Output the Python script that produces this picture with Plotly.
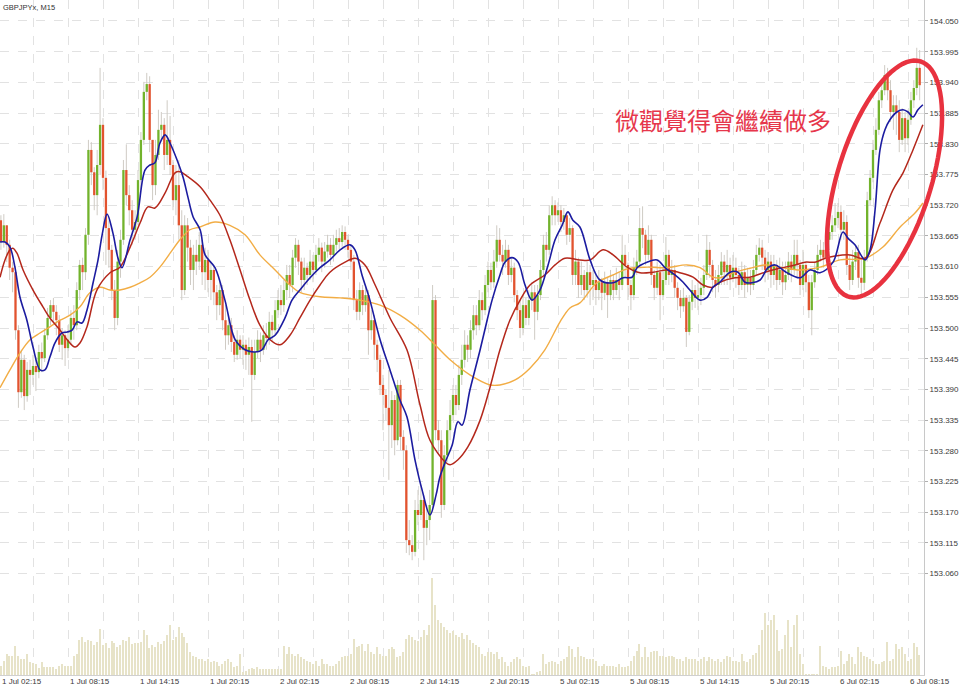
import numpy as np
import plotly.graph_objects as go

# ---------------- data (GBPJPYx, M15) ----------------
first_open = 153.676
close = [
    153.693, 153.654, 153.684, 153.649, 153.608, 153.600, 153.496, 153.385, 153.443, 153.378, 153.425, 153.416,
    153.432, 153.421, 153.457, 153.446, 153.487, 153.518, 153.541, 153.529, 153.514, 153.470, 153.487, 153.464,
    153.479, 153.518, 153.505, 153.568, 153.613, 153.600, 153.667, 153.819, 153.779, 153.738, 153.792, 153.864,
    153.769, 153.679, 153.640, 153.568, 153.518, 153.619, 153.658, 153.783, 153.738, 153.711, 153.676, 153.690,
    153.765, 153.837, 153.923, 153.937, 153.837, 153.756, 153.810, 153.855, 153.864, 153.810, 153.837, 153.792,
    153.729, 153.756, 153.684, 153.568, 153.684, 153.644, 153.604, 153.631, 153.619, 153.649, 153.600, 153.622,
    153.586, 153.604, 153.564, 153.541, 153.568, 153.514, 153.487, 153.505, 153.475, 153.452, 153.479, 153.461,
    153.470, 153.452, 153.466, 153.416, 153.457, 153.479, 153.461, 153.487, 153.482, 153.511, 153.496, 153.532,
    153.550, 153.541, 153.568, 153.595, 153.577, 153.626, 153.649, 153.619, 153.586, 153.608, 153.595, 153.619,
    153.604, 153.631, 153.644, 153.619, 153.637, 153.649, 153.631, 153.649, 153.661, 153.654, 153.672, 153.658,
    153.640, 153.619, 153.550, 153.529, 153.568, 153.541, 153.559, 153.496, 153.514, 153.470, 153.443, 153.398,
    153.380, 153.357, 153.326, 153.371, 153.299, 153.398, 153.305, 153.281, 153.120, 153.111, 153.099, 153.174,
    153.165, 153.192, 153.142, 153.156, 153.183, 153.550, 153.317, 153.299, 153.183, 153.272, 153.317, 153.344,
    153.380, 153.362, 153.416, 153.443, 153.470, 153.461, 153.496, 153.523, 153.505, 153.550, 153.532, 153.577,
    153.604, 153.582, 153.619, 153.658, 153.631, 153.619, 153.640, 153.595, 153.608, 153.559, 153.532, 153.500,
    153.541, 153.518, 153.550, 153.564, 153.529, 153.559, 153.604, 153.649, 153.640, 153.702, 153.720, 153.702,
    153.711, 153.690, 153.702, 153.667, 153.679, 153.595, 153.619, 153.577, 153.595, 153.568, 153.600, 153.577,
    153.586, 153.568, 153.582, 153.563, 153.581, 153.559, 153.586, 153.568, 153.586, 153.577, 153.631, 153.613,
    153.577, 153.559, 153.608, 153.619, 153.679, 153.667, 153.631, 153.658, 153.595, 153.572, 153.600, 153.559,
    153.586, 153.631, 153.595, 153.604, 153.572, 153.554, 153.539, 153.554, 153.493, 153.547, 153.568, 153.554,
    153.559, 153.572, 153.595, 153.640, 153.613, 153.586, 153.577, 153.595, 153.619, 153.600, 153.613, 153.590,
    153.608, 153.595, 153.577, 153.600, 153.577, 153.590, 153.577, 153.604, 153.631, 153.644, 153.626, 153.604,
    153.619, 153.595, 153.613, 153.586, 153.604, 153.582, 153.595, 153.619, 153.604, 153.631, 153.613, 153.577,
    153.613, 153.582, 153.532, 153.582, 153.604, 153.631, 153.640, 153.626, 153.658, 153.672, 153.684, 153.697,
    153.708, 153.676, 153.690, 153.613, 153.586, 153.619, 153.636, 153.590, 153.581, 153.626, 153.729, 153.769,
    153.819, 153.855, 153.908, 153.926, 153.953, 153.926, 153.887, 153.899, 153.887, 153.837, 153.876, 153.840,
    153.873, 153.908, 153.930, 153.966, 153.935,
]
high = [
    153.708, 153.702, 153.704, 153.684, 153.658, 153.619, 153.611, 153.505, 153.461, 153.452, 153.439, 153.443,
    153.452, 153.448, 153.470, 153.474, 153.500, 153.536, 153.550, 153.554, 153.541, 153.523, 153.500, 153.496,
    153.505, 153.532, 153.541, 153.582, 153.622, 153.626, 153.679, 153.837, 153.833, 153.788, 153.819, 153.966,
    153.876, 153.782, 153.693, 153.649, 153.586, 153.640, 153.676, 153.801, 153.829, 153.756, 153.729, 153.711,
    153.783, 153.851, 153.941, 153.957, 153.951, 153.837, 153.837, 153.891, 153.887, 153.876, 153.908, 153.880,
    153.801, 153.792, 153.801, 153.711, 153.702, 153.697, 153.658, 153.649, 153.658, 153.672, 153.658, 153.644,
    153.640, 153.619, 153.613, 153.577, 153.586, 153.577, 153.541, 153.523, 153.518, 153.487, 153.496, 153.487,
    153.487, 153.479, 153.483, 153.479, 153.479, 153.496, 153.492, 153.505, 153.509, 153.529, 153.523, 153.550,
    153.568, 153.577, 153.586, 153.613, 153.613, 153.640, 153.661, 153.658, 153.626, 153.626, 153.617, 153.640,
    153.631, 153.649, 153.661, 153.653, 153.654, 153.667, 153.661, 153.667, 153.676, 153.679, 153.684, 153.682,
    153.667, 153.649, 153.631, 153.568, 153.582, 153.577, 153.577, 153.568, 153.532, 153.523, 153.479, 153.452,
    153.416, 153.389, 153.425, 153.387, 153.380, 153.407, 153.407, 153.317, 153.290, 153.156, 153.129, 153.192,
    153.210, 153.219, 153.201, 153.183, 153.210, 153.577, 153.559, 153.335, 153.317, 153.290, 153.335, 153.371,
    153.398, 153.398, 153.434, 153.470, 153.496, 153.487, 153.514, 153.541, 153.541, 153.568, 153.564, 153.595,
    153.619, 153.617, 153.640, 153.684, 153.679, 153.649, 153.658, 153.649, 153.626, 153.617, 153.568, 153.550,
    153.559, 153.554, 153.568, 153.582, 153.577, 153.577, 153.622, 153.667, 153.672, 153.720, 153.736, 153.729,
    153.725, 153.720, 153.715, 153.708, 153.697, 153.684, 153.640, 153.626, 153.619, 153.604, 153.619, 153.613,
    153.604, 153.595, 153.604, 153.590, 153.601, 153.590, 153.604, 153.595, 153.608, 153.600, 153.667, 153.649,
    153.617, 153.586, 153.626, 153.640, 153.715, 153.718, 153.676, 153.684, 153.667, 153.604, 153.619, 153.613,
    153.608, 153.663, 153.640, 153.622, 153.613, 153.582, 153.568, 153.572, 153.559, 153.559, 153.586, 153.577,
    153.582, 153.590, 153.613, 153.667, 153.654, 153.622, 153.604, 153.613, 153.636, 153.631, 153.640, 153.626,
    153.631, 153.626, 153.608, 153.619, 153.613, 153.608, 153.604, 153.622, 153.649, 153.661, 153.658, 153.640,
    153.636, 153.631, 153.631, 153.622, 153.626, 153.619, 153.619, 153.636, 153.631, 153.658, 153.658, 153.622,
    153.640, 153.619, 153.595, 153.595, 153.619, 153.649, 153.658, 153.654, 153.679, 153.690, 153.702, 153.724,
    153.724, 153.720, 153.711, 153.702, 153.631, 153.640, 153.649, 153.649, 153.626, 153.640, 153.744, 153.783,
    153.837, 153.876, 153.923, 153.941, 153.971, 153.966, 153.944, 153.917, 153.917, 153.908, 153.894, 153.887,
    153.891, 153.923, 153.944, 154.002, 153.998,
]
low = [
    153.658, 153.640, 153.644, 153.618, 153.586, 153.564, 153.479, 153.357, 153.375, 153.353, 153.368, 153.380,
    153.398, 153.387, 153.410, 153.421, 153.439, 153.479, 153.505, 153.511, 153.487, 153.457, 153.443, 153.432,
    153.446, 153.470, 153.479, 153.496, 153.550, 153.568, 153.586, 153.649, 153.756, 153.711, 153.702, 153.774,
    153.747, 153.613, 153.608, 153.550, 153.496, 153.505, 153.590, 153.649, 153.720, 153.684, 153.649, 153.658,
    153.684, 153.747, 153.828, 153.908, 153.815, 153.729, 153.738, 153.801, 153.837, 153.783, 153.792, 153.774,
    153.711, 153.702, 153.658, 153.550, 153.559, 153.619, 153.577, 153.568, 153.595, 153.604, 153.577, 153.568,
    153.564, 153.550, 153.541, 153.514, 153.523, 153.496, 153.461, 153.470, 153.457, 153.439, 153.443, 153.446,
    153.434, 153.425, 153.416, 153.332, 153.407, 153.446, 153.439, 153.452, 153.461, 153.470, 153.475, 153.487,
    153.518, 153.523, 153.529, 153.550, 153.554, 153.564, 153.608, 153.595, 153.564, 153.568, 153.577, 153.586,
    153.582, 153.595, 153.619, 153.600, 153.608, 153.626, 153.613, 153.619, 153.637, 153.640, 153.644, 153.640,
    153.626, 153.604, 153.532, 153.514, 153.514, 153.523, 153.529, 153.452, 153.479, 153.443, 153.421, 153.380,
    153.317, 153.335, 153.228, 153.285, 153.272, 153.290, 153.281, 153.246, 153.097, 153.093, 153.084, 153.091,
    153.147, 153.156, 153.084, 153.111, 153.120, 153.170, 153.299, 153.272, 153.160, 153.174, 153.260, 153.299,
    153.335, 153.344, 153.353, 153.398, 153.429, 153.439, 153.446, 153.479, 153.487, 153.496, 153.514, 153.523,
    153.564, 153.568, 153.572, 153.608, 153.619, 153.595, 153.608, 153.577, 153.582, 153.546, 153.514, 153.482,
    153.487, 153.505, 153.505, 153.532, 153.479, 153.514, 153.550, 153.590, 153.619, 153.631, 153.684, 153.684,
    153.690, 153.672, 153.676, 153.649, 153.654, 153.577, 153.577, 153.554, 153.559, 153.550, 153.554, 153.541,
    153.550, 153.541, 153.550, 153.532, 153.550, 153.518, 153.550, 153.550, 153.559, 153.550, 153.568, 153.590,
    153.550, 153.532, 153.550, 153.595, 153.613, 153.643, 153.613, 153.622, 153.577, 153.550, 153.559, 153.514,
    153.550, 153.577, 153.577, 153.582, 153.554, 153.532, 153.518, 153.529, 153.466, 153.487, 153.532, 153.536,
    153.532, 153.541, 153.559, 153.586, 153.590, 153.564, 153.554, 153.564, 153.577, 153.577, 153.577, 153.568,
    153.582, 153.572, 153.559, 153.568, 153.554, 153.564, 153.559, 153.568, 153.595, 153.619, 153.604, 153.582,
    153.586, 153.572, 153.577, 153.568, 153.577, 153.559, 153.568, 153.586, 153.582, 153.595, 153.590, 153.559,
    153.568, 153.564, 153.518, 153.487, 153.572, 153.595, 153.619, 153.608, 153.619, 153.640, 153.658, 153.672,
    153.679, 153.658, 153.658, 153.595, 153.568, 153.577, 153.604, 153.572, 153.559, 153.568, 153.619, 153.720,
    153.761, 153.810, 153.846, 153.894, 153.917, 153.908, 153.869, 153.855, 153.846, 153.815, 153.828, 153.815,
    153.828, 153.864, 153.894, 153.917, 153.908,
]
volume = [
    80, 90, 140, 210, 190, 190, 290, 190, 160, 160, 210, 130,
    120, 110, 70, 130, 80, 80, 80, 80, 60, 90, 110, 90,
    90, 90, 190, 210, 350, 380, 330, 350, 340, 300, 330, 460,
    300, 320, 270, 340, 320, 280, 300, 350, 340, 380, 310, 320,
    320, 330, 450, 400, 270, 300, 280, 330, 310, 340, 400, 500,
    350, 380, 480, 420, 380, 320, 230, 190, 180, 160, 160, 140,
    160, 130, 140, 130, 90, 110, 140, 160, 130, 80, 90, 210,
    30, 40, 60, 70, 60, 80, 60, 60, 60, 60, 60, 60,
    60, 60, 290, 210, 280, 210, 190, 210, 180, 160, 140, 130,
    110, 140, 90, 160, 110, 110, 90, 90, 110, 140, 180, 190,
    190, 210, 360, 280, 290, 310, 240, 310, 230, 210, 280, 210,
    190, 190, 260, 280, 260, 180, 190, 230, 360, 400, 380, 350,
    340, 380, 450, 400, 500, 970, 700, 550, 520, 480, 450, 420,
    440, 400, 380, 420, 360, 400, 350, 320, 300, 280, 210, 190,
    230, 230, 210, 230, 160, 180, 130, 90, 130, 160, 180, 160,
    90, 80, 90, 10, 10, 30, 40, 210, 110, 130, 140, 130,
    110, 140, 160, 180, 290, 260, 180, 280, 190, 180, 160, 160,
    160, 140, 90, 90, 110, 90, 90, 90, 80, 110, 80, 80,
    90, 140, 190, 240, 310, 180, 280, 180, 230, 240, 240, 190,
    190, 180, 190, 190, 180, 160, 160, 140, 180, 160, 160, 160,
    140, 160, 180, 140, 180, 160, 140, 160, 130, 160, 190, 180,
    140, 140, 130, 210, 140, 130, 160, 200, 220, 300, 450, 620,
    500, 550, 600, 450, 240, 260, 400, 550, 280, 500, 600, 210,
    110, 10, 10, 10, 10, 10, 290, 90, 80, 60, 80, 80,
    90, 240, 110, 140, 210, 180, 110, 280, 230, 190, 180, 160,
    140, 110, 110, 130, 140, 330, 140, 160, 310, 260, 280, 210,
    140, 160, 320, 280, 200,
]

# moving averages (bar position, price)
ma_fast_x = [0.7, 2.4, 4.1, 5.8, 7.5, 9.9, 12.0, 14.4, 16.1, 17.8, 19.5, 21.9, 23.7, 25.4, 27.1, 28.8, 30.5,
             32.6, 34.3, 35.7, 37.4, 39.4, 41.1, 42.5, 45.3, 47.7, 50.4, 52.1, 53.8, 55.5, 57.3, 59.0, 61.4,
             63.4, 65.1, 66.9, 69.3, 71.0, 74.4, 77.8, 81.3, 84.7, 88.1, 90.5, 92.6, 95.0, 98.4, 100.8, 103.5,
             107.0, 110.4, 113.8, 117.3, 120.7, 122.4, 124.8, 127.5, 131.0, 134.4, 137.8, 140.2, 143.0, 145.4,
             148.1, 150.2, 151.5, 153.6, 155.7, 157.7, 159.1, 161.8, 165.3, 167.7, 169.4, 172.1, 173.8, 176.2,
             178.3, 180.7, 183.1, 185.8, 188.6, 191.0, 193.4, 195.4, 197.1, 199.5, 203.0, 206.4, 210.9, 214.3,
             217.4, 219.1, 222.5, 226.0, 228.7, 232.1, 234.9, 237.2, 240.7, 243.1, 245.1, 247.5, 251.0, 253.7,
             256.1, 258.5, 261.3, 264.0, 266.4, 270.2, 275.0, 278.4, 281.8, 286.3, 289.7, 291.4, 293.8, 297.3,
             299.0, 300.7, 302.4, 304.1, 305.8, 308.2, 310.3, 312.0, 313.7, 315.4, 317.1]
ma_fast_y = [153.654, 153.654, 153.645, 153.609, 153.556, 153.514, 153.466, 153.425, 153.425, 153.448, 153.473,
             153.491, 153.493, 153.496, 153.511, 153.509, 153.532, 153.581, 153.622, 153.667, 153.704, 153.670,
             153.626, 153.608, 153.658, 153.699, 153.783, 153.792, 153.796, 153.831, 153.846, 153.831, 153.801,
             153.771, 153.735, 153.699, 153.676, 153.631, 153.608, 153.550, 153.479, 153.461, 153.457, 153.461,
             153.479, 153.487, 153.518, 153.550, 153.568, 153.590, 153.608, 153.622, 153.640, 153.649, 153.640,
             153.595, 153.550, 153.479, 153.425, 153.371, 153.341, 153.263, 153.210, 153.165, 153.201, 153.233,
             153.263, 153.290, 153.332, 153.326, 153.389, 153.461, 153.514, 153.550, 153.595, 153.618, 153.626,
             153.618, 153.577, 153.550, 153.568, 153.613, 153.658, 153.684, 153.708, 153.693, 153.681, 153.622,
             153.586, 153.581, 153.590, 153.591, 153.608, 153.618, 153.622, 153.608, 153.595, 153.582, 153.568,
             153.550, 153.555, 153.573, 153.582, 153.600, 153.600, 153.582, 153.581, 153.586, 153.608, 153.613,
             153.600, 153.590, 153.604, 153.599, 153.618, 153.672, 153.661, 153.649, 153.622, 153.640, 153.711,
             153.819, 153.855, 153.873, 153.887, 153.891, 153.887, 153.878, 153.891, 153.900]

ma_mid_x = [0.7, 2.4, 4.1, 5.1, 6.5, 8.6, 12.0, 15.4, 17.8, 21.3, 23.7, 26.4, 28.1, 30.5, 33.9, 38.4, 41.8, 45.3,
            48.7, 51.4, 53.8, 57.3, 60.7, 62.4, 65.1, 69.3, 72.7, 76.1, 79.5, 83.0, 86.4, 89.8, 93.3, 96.7,
            100.1, 103.5, 107.0, 110.4, 113.8, 119.0, 122.4, 125.8, 129.3, 134.4, 140.2, 144.7, 148.1, 153.3,
            155.0, 157.7, 161.1, 165.3, 168.7, 172.1, 175.5, 179.0, 182.4, 187.5, 191.0, 194.4, 199.5, 203.0,
            207.4, 210.9, 215.7, 220.1, 224.6, 229.4, 233.8, 238.3, 241.7, 245.1, 247.5, 252.7, 257.8, 263.0,
            268.1, 273.3, 276.7, 280.1, 283.6, 287.0, 292.1, 297.3, 302.4, 306.8, 310.3, 313.7, 317.1]
ma_mid_y = [153.591, 153.622, 153.640, 153.643, 153.634, 153.604, 153.568, 153.538, 153.518, 153.496, 153.479,
            153.466, 153.473, 153.502, 153.568, 153.599, 153.609, 153.645, 153.688, 153.717, 153.715, 153.742,
            153.778, 153.780, 153.771, 153.753, 153.729, 153.702, 153.658, 153.604, 153.550, 153.505, 153.479,
            153.470, 153.487, 153.518, 153.550, 153.577, 153.600, 153.618, 153.625, 153.613, 153.577, 153.518,
            153.461, 153.362, 153.299, 153.260, 153.255, 153.264, 153.287, 153.335, 153.394, 153.461, 153.514,
            153.550, 153.577, 153.595, 153.613, 153.625, 153.622, 153.622, 153.640, 153.631, 153.609, 153.599,
            153.600, 153.604, 153.599, 153.591, 153.577, 153.573, 153.582, 153.590, 153.591, 153.600, 153.607,
            153.613, 153.618, 153.618, 153.625, 153.629, 153.631, 153.625, 153.688, 153.747, 153.778, 153.819,
            153.864]

ma_slow_x = [0.7, 4.1, 7.5, 11.0, 14.4, 17.8, 21.3, 24.7, 28.1, 31.5, 35.0, 38.4, 41.8, 45.3, 48.7, 52.1, 55.5,
             59.0, 62.4, 65.8, 69.3, 74.4, 79.5, 84.7, 89.8, 95.0, 100.1, 103.5, 110.4, 117.3, 124.1, 131.0,
             137.8, 144.7, 149.8, 155.0, 161.8, 168.7, 172.1, 177.3, 182.4, 187.5, 192.7, 196.1, 199.5, 205.3,
             210.9, 215.7, 222.5, 229.4, 236.2, 240.7, 245.1, 247.5, 252.7, 257.8, 263.0, 268.1, 275.0, 281.8,
             288.7, 297.3, 303.4, 309.3, 314.4, 317.1]
ma_slow_y = [153.393, 153.425, 153.455, 153.479, 153.491, 153.502, 153.514, 153.523, 153.538, 153.563, 153.573,
             153.568, 153.568, 153.573, 153.581, 153.591, 153.609, 153.634, 153.658, 153.676, 153.681, 153.690,
             153.684, 153.667, 153.631, 153.604, 153.577, 153.564, 153.556, 153.554, 153.550, 153.541, 153.523,
             153.496, 153.470, 153.443, 153.416, 153.398, 153.398, 153.407, 153.428, 153.461, 153.511, 153.536,
             153.545, 153.581, 153.595, 153.606, 153.609, 153.608, 153.613, 153.608, 153.591, 153.590, 153.600,
             153.607, 153.613, 153.609, 153.604, 153.609, 153.622, 153.625, 153.645, 153.681, 153.706, 153.724]

price_ticks = [153.060, 153.115, 153.170, 153.225, 153.280, 153.335, 153.390, 153.445, 153.500, 153.555,
               153.610, 153.665, 153.720, 153.775, 153.830, 153.885, 153.940, 153.995, 154.050]
time_tick_pos = [0, 24, 48, 72, 96, 120, 144, 168, 192, 216, 240, 264, 288, 312]
time_tick_text = ["1 Jul 02:15", "1 Jul 08:15", "1 Jul 14:15", "1 Jul 20:15", "2 Jul 02:15", "2 Jul 08:15",
                  "2 Jul 14:15", "2 Jul 20:15", "5 Jul 02:15", "5 Jul 08:15", "5 Jul 14:15", "5 Jul 20:15",
                  "6 Jul 02:15", "6 Jul 08:15"]

# ---------------- build ----------------
n = len(close)
idx = list(range(n))
opens = [first_open] + close[:-1]

wx, wy = [], []
gx, gy, rx, ry = [], [], [], []
for i in idx:
    wx += [i, i, None]
    wy += [low[i], high[i], None]
    if close[i] >= opens[i]:
        gx += [i, i, None]
        gy += [opens[i], close[i], None]
    else:
        rx += [i, i, None]
        ry += [opens[i], close[i], None]

W, H = 960, 687
ML, MR, MT, MB = 0, 36, 0, 12
PW, PH = W - ML - MR, H - MT - MB

fig = go.Figure()
fig.add_trace(go.Bar(x=idx, y=volume, yaxis="y2", marker=dict(color="#e7e3c8", line=dict(width=0)),
                     width=0.5, hoverinfo="skip", showlegend=False))
fig.add_trace(go.Scatter(x=wx, y=wy, mode="lines", line=dict(color="#cfcbc4", width=1),
                         hoverinfo="skip", showlegend=False))
fig.add_trace(go.Scatter(x=gx, y=gy, mode="lines", line=dict(color="#72b32c", width=2.3),
                         hoverinfo="skip", showlegend=False))
fig.add_trace(go.Scatter(x=rx, y=ry, mode="lines", line=dict(color="#e2532f", width=2.3),
                         hoverinfo="skip", showlegend=False))
fig.add_trace(go.Scatter(x=ma_slow_x, y=ma_slow_y, mode="lines", line=dict(color="#f2ad45", width=1.4, shape="spline"),
                         showlegend=False))
fig.add_trace(go.Scatter(x=ma_mid_x, y=ma_mid_y, mode="lines", line=dict(color="#b4281c", width=1.5, shape="spline"),
                         showlegend=False))
fig.add_trace(go.Scatter(x=ma_fast_x, y=ma_fast_y, mode="lines", line=dict(color="#1c1ca0", width=1.6, shape="spline"),
                         showlegend=False))

x0_px = 2.0
bar_px = 70.0 / 24.0
xr = [x0_px / bar_px, (PW + x0_px) / bar_px]
yr = [152.8784, 154.0876]

fig.update_layout(
    width=W, height=H,
    margin=dict(l=ML, r=MR, t=MT, b=MB, autoexpand=False),
    paper_bgcolor="white", plot_bgcolor="white",
    bargap=0,
    font=dict(family="Liberation Sans, Arial, sans-serif", size=8, color="#3a3a3a"),
    xaxis=dict(range=xr, tickmode="array", tickvals=list(range(0, n + 1, 12)), showticklabels=False,
               showgrid=True, gridcolor="#e2e2e2", griddash="dash", gridwidth=1, zeroline=False,
               showline=True, linecolor="#d0d0d0", ticks="", automargin=False),
    yaxis=dict(range=yr, side="right", tickmode="array", tickvals=price_ticks,
               ticktext=[f"{v:.3f}" for v in price_ticks], showgrid=True, gridcolor="#e2e2e2",
               griddash="dash", gridwidth=1, zeroline=False, showline=True, linecolor="#c8c8c8",
               ticks="outside", ticklen=3, tickcolor="#b0b0b0", automargin=False,
               tickfont=dict(size=8, color="#3a3a3a")),
    yaxis2=dict(range=[0, 6750], overlaying="y", side="left", visible=False, showgrid=False),
)

for pos, txt in zip(time_tick_pos, time_tick_text):
    fig.add_annotation(x=max(pos, xr[0] + 0.05), xref="x", y=0, yref="paper", yanchor="top", xanchor="left",
                       text=txt, showarrow=False, yshift=0, font=dict(size=8, color="#3a3a3a"))

fig.add_annotation(x=0, xref="paper", y=1, yref="paper", xanchor="left", yanchor="top", xshift=1, yshift=-1,
                   text="GBPJPYx, M15", showarrow=False, font=dict(size=7.5, color="#333333"))

fig.add_annotation(x=248.7, xref="x", y=153.873, yref="y", text="微觀覺得會繼續做多", showarrow=False,
                   font=dict(family="Noto Sans CJK TC", size=24, color="#e6364b"))

# hand-drawn style ellipse marking the breakout (pixel geometry -> paper coords)
cx, cy, a, b, th = 884.5, 179.0, 123.0, 47.0, np.deg2rad(17)
t = np.linspace(0, 2 * np.pi, 90)
ux, uy = np.sin(th), -np.cos(th)
vx, vy = np.cos(th), np.sin(th)
px = cx + a * np.cos(t) * ux + b * np.sin(t) * vx
py = cy + a * np.cos(t) * uy + b * np.sin(t) * vy
xp = px / PW
yp = 1 - py / PH
path = "M " + " L ".join(f"{xx:.5f},{yy:.5f}" for xx, yy in zip(xp, yp)) + " Z"
fig.add_shape(type="path", path=path, xref="paper", yref="paper", line=dict(color="#e8323f", width=4.5))

fig.write_html("out.html", config={"displayModeBar": False},
               post_script="document.body.style.margin='0';document.body.style.overflow='hidden';")
